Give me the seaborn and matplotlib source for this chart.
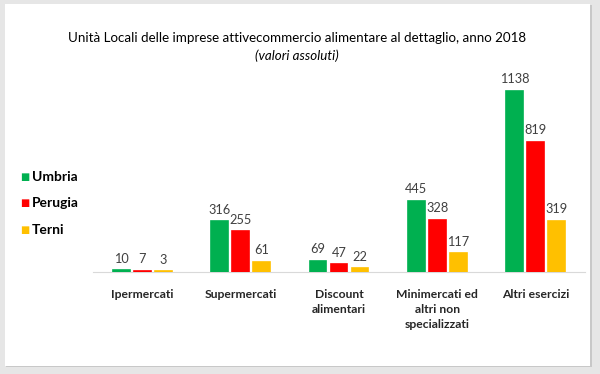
import pandas as pd
import matplotlib.pyplot as plt
import seaborn as sns
from matplotlib.patches import Rectangle

# data
categorie = ["Ipermercati", "Supermercati", "Discount\nalimentari",
             "Minimercati ed\naltri non\nspecializzati", "Altri esercizi"]
umbria = [10, 316, 69, 445, 1138]
perugia = [7, 255, 47, 328, 819]
terni = [3, 61, 22, 117, 319]
territori = ["Umbria", "Perugia", "Terni"]
colori = ["#00B050", "#FF0000", "#FFC000"]

df = pd.DataFrame({"categoria": categorie * 3,
                   "territorio": [t for t in territori for _ in categorie],
                   "valore": umbria + perugia + terni})

sns.set_style("white")
plt.rcParams["font.family"] = ["Lato", "DejaVu Sans"]

fig = plt.figure(figsize=(6, 3.74), dpi=100)
fig.patch.set_facecolor("#E6E6E6")
# white panel with shadowed border
fig.add_artist(Rectangle((6 / 600, 7 / 374), 586 / 600, 362 / 374, transform=fig.transFigure,
                         facecolor="#C8C8C8", edgecolor="none", zorder=0))
fig.add_artist(Rectangle((5 / 600, 8 / 374), 585 / 600, 362 / 374, transform=fig.transFigure,
                         facecolor="white", edgecolor="none", zorder=0))

ax = fig.add_axes([93 / 600, 102 / 374, 492 / 600, 0.553])
ax.set_facecolor("none")
sns.barplot(data=df, x="categoria", y="valore", hue="territorio", palette=colori,
            saturation=1, width=0.64, gap=0.2, ax=ax, linewidth=1.2)

for cont, c in zip(ax.containers, colori):
    for p in cont:
        p.set_edgecolor(c)
    ax.bar_label(cont, padding=4, fontsize=9.2, color="#404040")

ax.set_ylim(-2, 1300)
ax.set_xlim(-0.5, 4.5)
ax.set_yticks([])
ax.set_xlabel("")
ax.set_ylabel("")
sns.despine(ax=ax, left=True)
ax.spines["bottom"].set_color("#D9D9D9")
ax.spines["bottom"].set_zorder(0.5)
ax.tick_params(axis="x", length=0, pad=12)
for lab in ax.get_xticklabels():
    lab.set_fontweight("bold")
    lab.set_fontsize(8.7)
    lab.set_linespacing(1.45)
    lab.set_verticalalignment("top")

# legend on the left
ax.legend_.remove()
for i, (t, c) in enumerate(zip(territori, colori)):
    y = 1 - (177 + i * 26.5) / 374
    fig.text(20 / 600, y, "\u25A0", color=c, fontsize=7, va="center", ha="left",
             family=["DejaVu Sans"])
    fig.text(32 / 600, y, t, fontsize=10, fontweight="bold", va="center", ha="left",
             color="black")

fig.text(297 / 600, 1 - 38 / 374,
         "Unità Locali delle imprese attivecommercio alimentare al dettaglio, anno 2018",
         ha="center", va="center", fontsize=9.6, color="black")
fig.text(297 / 600, 1 - 56 / 374, "(valori assoluti)", ha="center", va="center",
         fontsize=9.6, style="italic", color="black")

fig.savefig("out.png", dpi=100, facecolor=fig.get_facecolor())
